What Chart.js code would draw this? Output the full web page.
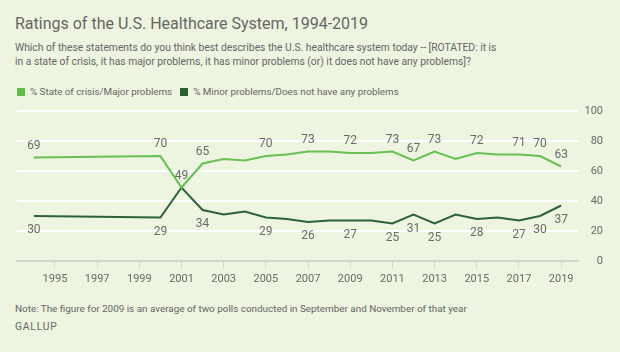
<!DOCTYPE html>
<html>
<head>
<meta charset="utf-8">
<script src="https://cdn.jsdelivr.net/npm/chart.js@4.4.0/dist/chart.umd.min.js"></script>
<style>
  html, body { margin:0; padding:0; }
  body { width:620px; height:352px; background:#EDF4DF; position:relative; overflow:hidden; font-family:Roboto, "Noto Sans", sans-serif; color:#666; }
  #title { position:absolute; left:15px; top:15.5px; font-size:16px; line-height:16px; color:#666; white-space:nowrap; }
  #sub { position:absolute; left:15px; top:41px; font-size:10.3px; line-height:14px; color:#666; width:500px; }
  #legend { position:absolute; left:17px; top:84.5px; font-size:9.8px; line-height:13px; color:#666; white-space:nowrap; }
  #legend span.sw { display:inline-block; width:8px; height:8px; vertical-align:-1px; margin-right:5px; }
  #legend span.it { margin-right:8px; }
  #note { position:absolute; left:15px; top:301.5px; font-size:9.9px; line-height:13px; color:#666; white-space:nowrap; }
  #src { position:absolute; left:15px; top:320px; font-size:10.3px; line-height:13px; color:#666; letter-spacing:0.8px; }
  #wrap { position:absolute; left:0; top:95px; width:620px; height:200px; }
</style>
</head>
<body>
<div id="title">Ratings of the U.S. Healthcare System, 1994-2019</div>
<div id="sub">Which of these statements do you think best describes the U.S. healthcare system today -- [ROTATED: it is<br>in a state of crisis, it has major problems, it has minor problems (or) it does not have any problems]?</div>
<div id="legend"><span class="it"><span class="sw" style="background:#5FBE4A"></span>% State of crisis/Major problems</span><span class="it"><span class="sw" style="background:#2A5F32"></span>% Minor problems/Does not have any problems</span></div>
<div id="wrap"><canvas id="c" width="620" height="200"></canvas></div>
<div id="note">Note: The figure for 2009 is an average of two polls conducted in September and November of that year</div>
<div id="src">GALLUP</div>
<script>
const years = [1994, 2000, 2001, 2002, 2003, 2004, 2005, 2006, 2007, 2008, 2009, 2010, 2011, 2012, 2013, 2014, 2015, 2016, 2017, 2018, 2019];
const crisisMajor = [69, 70, 49, 65, 68, 67, 70, 71, 73, 73, 72, 72, 73, 67, 73, 68, 72, 71, 71, 70, 63];
const minorNone   = [30, 29, 49, 34, 31, 33, 29, 28, 26, 27, 27, 27, 25, 31, 25, 31, 28, 29, 27, 30, 37];
const labeledYearsCrisis = [1994, 2000, 2002, 2005, 2007, 2009, 2011, 2012, 2013, 2015, 2017, 2018, 2019];
const labeledYearsMinor  = [1994, 2000, 2001, 2002, 2005, 2007, 2009, 2011, 2012, 2013, 2015, 2017, 2018, 2019];
const xTicks = [1995, 1997, 1999, 2001, 2003, 2005, 2007, 2009, 2011, 2013, 2015, 2017, 2019];
const yTicks = [0, 20, 40, 60, 80, 100];

const lightColor = '#66C150';
const darkColor = '#2B6334';
const textColor = '#6a6a6a';

const labelPlugin = {
  id: 'valueLabels',
  afterDatasetsDraw(chart) {
    const ctx = chart.ctx;
    ctx.save();
    ctx.font = '12px Roboto, "Noto Sans", sans-serif';
    ctx.fillStyle = textColor;
    ctx.textAlign = 'center';
    ctx.textBaseline = 'middle';
    const sets = [
      { ds: 0, list: labeledYearsCrisis },
      { ds: 1, list: labeledYearsMinor }
    ];
    sets.forEach(s => {
      const meta = chart.getDatasetMeta(s.ds);
      s.list.forEach(yr => {
        const i = years.indexOf(yr);
        const pt = meta.data[i];
        const v = chart.data.datasets[s.ds].data[i].y;
        let above = s.ds === 0;
        if (s.ds === 1 && v === crisisMajor[i]) above = true;
        const y = above ? pt.y - 12 : pt.y + 14;
        ctx.fillText(String(v), pt.x, y);
      });
    });
    ctx.restore();
  }
};

new Chart(document.getElementById('c'), {
  type: 'line',
  data: {
    datasets: [
      { label: '% State of crisis/Major problems', data: years.map((y, i) => ({ x: y, y: crisisMajor[i] })), borderColor: lightColor, borderWidth: 2, pointRadius: 0, tension: 0 },
      { label: '% Minor problems/Does not have any problems', data: years.map((y, i) => ({ x: y, y: minorNone[i] })), borderColor: darkColor, borderWidth: 2, pointRadius: 0, tension: 0 }
    ]
  },
  options: {
    responsive: false,
    animation: false,
    layout: { padding: { left: 17, right: 17, top: 16, bottom: 0 } },
    plugins: { legend: { display: false }, tooltip: { enabled: false } },
    scales: {
      x: {
        type: 'linear', min: 1993.2, max: 2019.8,
        afterBuildTicks(scale) { scale.ticks = xTicks.map(v => ({ value: v })); },
        afterFit(scale) { scale.height = 34; },
        grid: { drawOnChartArea: false, drawTicks: true, tickLength: 7, color: '#D3D7CB', lineWidth: 1 },
        border: { display: true, color: '#D3D7CB', width: 2 },
        ticks: { color: textColor, font: { size: 11, family: 'Roboto, "Noto Sans", sans-serif' }, padding: 5, maxRotation: 0, autoSkip: false, callback: v => String(v) }
      },
      y: {
        position: 'right', min: 0, max: 100,
        afterBuildTicks(scale) { scale.ticks = yTicks.map(v => ({ value: v })); },
        afterFit(scale) { scale.width = 25; },
        grid: { drawTicks: false, color: ctx => ctx.tick && ctx.tick.value === 0 ? 'rgba(0,0,0,0)' : '#FFFFFF', lineWidth: 2 },
        border: { display: false },
        ticks: { color: textColor, font: { size: 11, family: 'Roboto, "Noto Sans", sans-serif' }, crossAlign: 'far', padding: 0 }
      }
    }
  },
  plugins: [labelPlugin]
});
</script>
</body>
</html>
